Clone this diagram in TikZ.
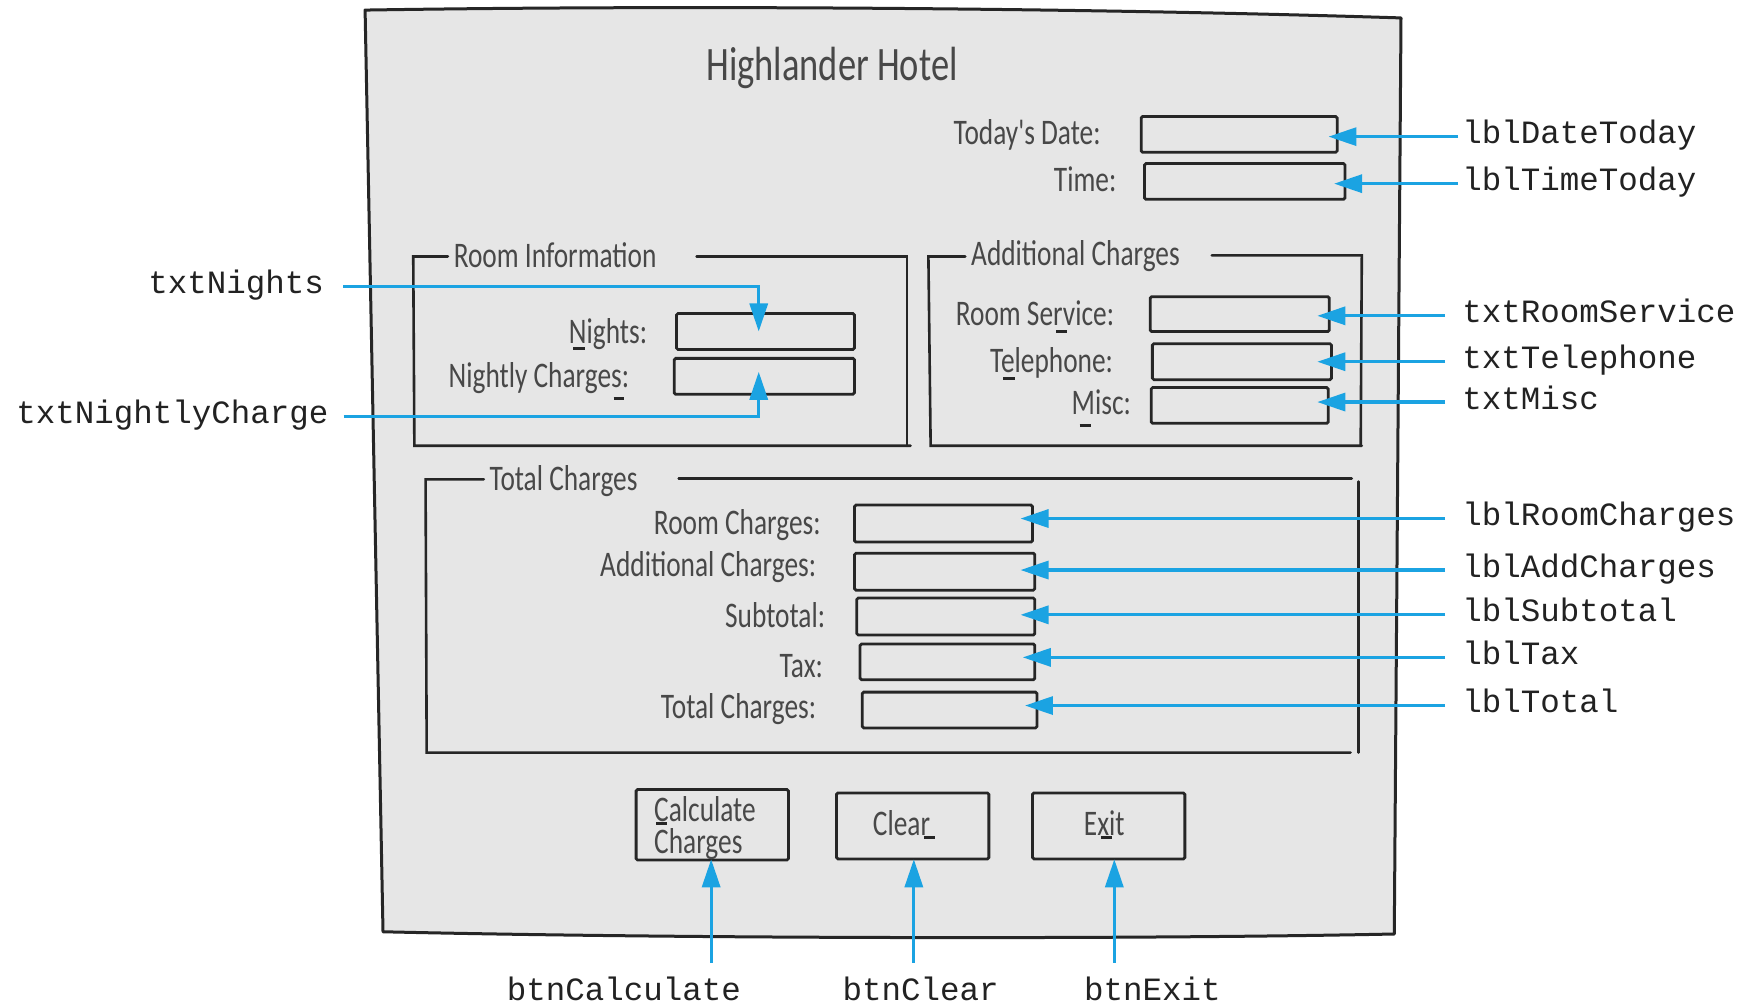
\documentclass[tikz,border=0pt]{standalone}
\usepackage{fontspec}
\usetikzlibrary{arrows.meta,calc,fit}
\newfontfamily\uifont{Carlito}[FakeStretch=0.76]
\newfontfamily\codefont{Liberation Mono}
\definecolor{callout}{HTML}{1BA3E2}
\definecolor{ink}{HTML}{262626}
\definecolor{formbg}{HTML}{E6E6E6}
\definecolor{uitext}{HTML}{484848}
\definecolor{codetext}{HTML}{222222}

\begin{document}
\begin{tikzpicture}[x=1.12pt, y=-1.12pt,
  field/.style={draw=ink, line width=2.8pt, fill=formbg, inner sep=0pt, rounded corners=1.5pt},
  grpline/.style={draw=ink, line width=2.6pt, line cap=round},
  ui/.style={font=\uifont\fontsize{36}{40}\selectfont, text=uitext, inner sep=0pt},
  bigui/.style={font=\uifont\fontsize{48}{52}\selectfont, text=uitext, inner sep=0pt},
  code/.style={font=\codefont\fontsize{32.5}{36}\selectfont, text=codetext,
               text height=20pt, text depth=6pt, inner xsep=4pt, inner ysep=0pt},
  callarrow/.style={draw=callout, line width=3.2pt, -{Triangle[length=28pt,width=18pt]}},
  mnem/.style={draw=ink, line width=3pt}
]
% canvas
\fill[white] (0,0) rectangle (1568,898);
\useasboundingbox (0,0) rectangle (1568,898);

% window outline
\draw[ink, line width=3pt, line join=round, fill=formbg]
  (326,9) .. controls (640,4) and (1000,8) .. (1251,16)
  -- (1245,834) .. controls (1000,839) and (600,838) .. (342,832) -- cycle;

% title
\node[bigui, anchor=base] (title) at (743,72) {Highlander Hotel};

% date and time
\node[ui, anchor=base east] (dateLbl) at (983,129) {Today's Date:};
\node[ui, anchor=base east] (timeLbl) at (997,171) {Time:};
\node[field, fit={(1019,104) (1194,136)}] (dateBox) {};
\node[field, fit={(1022,146) (1201,178)}] (timeBox) {};

% group: Room Information
\draw[grpline] (400,229) -- (369,229) -- (370,398) -- (813,398);
\draw[grpline] (622,229) -- (810,229) -- (810,398);
\node[ui, anchor=base west] (roomGrp) at (405,239) {Room Information};
\node[ui, anchor=base east] (nightsLbl) at (578,307) {Nights:};
\node[ui, anchor=base east] (nightlyLbl) at (562,346) {Nightly Charges:};
\node[field, fit={(604,280) (763,312)}] (nightsBox) {};
\node[field, fit={(602,320) (763,352)}] (nightlyBox) {};
\draw[mnem] (512,311) -- (522,311);
\draw[mnem] (548,356) -- (557,356);

% group: Additional Charges
\draw[grpline] (862,229) -- (829,229) -- (831,398) -- (1216,398);
\draw[grpline] (1082,228) -- (1216,228) -- (1215,398);
\node[ui, anchor=base west] (addGrp) at (867,237) {Additional Charges};
\node[ui, anchor=base east] (serviceLbl) at (995,291) {Room Service:};
\node[ui, anchor=base east] (phoneLbl) at (994,333) {Telephone:};
\node[ui, anchor=base east] (miscLbl) at (1010,370) {Misc:};
\node[field, fit={(1027,265) (1187,296)}] (serviceBox) {};
\node[field, fit={(1029,307) (1189,339)}] (phoneBox) {};
\node[field, fit={(1028,346) (1186,378)}] (miscBox) {};
\draw[mnem] (943,296) -- (953,296);
\draw[mnem] (896,338) -- (906,338);
\draw[mnem] (964,380) -- (974,380);

% group: Total Charges
\draw[grpline] (432,428) -- (380,428) -- (381,672) -- (1206,672);
\draw[grpline] (606,427) -- (1207,427);
\draw[grpline] (1213,430) -- (1213,672);
\node[ui, anchor=base west] (totGrp) at (437,438) {Total Charges};
\node[ui, anchor=base east] (roomChgLbl) at (733,477) {Room Charges:};
\node[ui, anchor=base east] (addChgLbl) at (729,515) {Additional Charges:};
\node[ui, anchor=base east] (subLbl) at (737,560) {Subtotal:};
\node[ui, anchor=base east] (taxLbl) at (735,605) {Tax:};
\node[ui, anchor=base east] (totLbl) at (729,642) {Total Charges:};
\node[field, fit={(763,451) (922,484)}] (roomChgBox) {};
\node[field, fit={(763,494) (924,527)}] (addChgBox) {};
\node[field, fit={(765,534) (924,567)}] (subBox) {};
\node[field, fit={(768,575) (924,607)}] (taxBox) {};
\node[field, fit={(770,618) (926,650)}] (totBox) {};

% buttons
\node[field, fit={(568,705) (704,768)}] (calcBtn) {};
\node[field, fit={(747,708) (883,767)}] (clearBtn) {};
\node[field, fit={(922,708) (1058,767)}] (exitBtn) {};
\node[ui, font=\uifont\fontsize{36}{31.4}\selectfont, align=left, anchor=base west]
  (calcTxt) at (584,762) {Calculate\\Charges};
\node[ui, anchor=base] (clearTxt) at (805,746) {Clear};
\node[ui, anchor=base] (exitTxt) at (986,746) {Exit};
\draw[mnem] (586,735) -- (596,735);
\draw[mnem] (825,748) -- (835,748);
\draw[mnem] (983,748) -- (993,748);

% control names
\node[code, anchor=west] (lblDateToday) at (1302,122) {lblDateToday};
\node[code, anchor=west] (lblTimeToday) at (1302,164) {lblTimeToday};
\node[code, anchor=west] (txtRoomService) at (1302,282) {txtRoomService};
\node[code, anchor=west] (txtTelephone) at (1302,323) {txtTelephone};
\node[code, anchor=west] (txtMisc) at (1302,359) {txtMisc};
\node[code, anchor=west] (lblRoomCharges) at (1302,463) {lblRoomCharges};
\node[code, anchor=west] (lblAddCharges) at (1302,509) {lblAddCharges};
\node[code, anchor=west] (lblSubtotal) at (1302,549) {lblSubtotal};
\node[code, anchor=west] (lblTax) at (1302,587) {lblTax};
\node[code, anchor=west] (lblTotal) at (1302,630) {lblTotal};
\node[code, anchor=east] (txtNights) at (293,256) {txtNights};
\node[code, anchor=east] (txtNightlyCharge) at (297,372) {txtNightlyCharge};
\node[code, anchor=base] (btnCalculate) at (557,893) {btnCalculate};
\node[code, anchor=base] (btnClear) at (822,893) {btnClear};
\node[code, anchor=base] (btnExit) at (1029,893) {btnExit};

% callouts
\draw[callarrow] (lblDateToday.west) -- ($(lblDateToday.west -| dateBox.east)+(-9,0)$);
\draw[callarrow] (lblTimeToday.west) -- ($(lblTimeToday.west -| timeBox.east)+(-11,0)$);
\draw[callarrow, shorten <=13pt] (txtRoomService.west) -- ($(txtRoomService.west -| serviceBox.east)+(-12,0)$);
\draw[callarrow, shorten <=13pt] (txtTelephone.west) -- ($(txtTelephone.west -| phoneBox.east)+(-14,0)$);
\draw[callarrow, shorten <=13pt] (txtMisc.west) -- ($(txtMisc.west -| miscBox.east)+(-11,0)$);
\draw[callarrow, shorten <=13pt] (lblRoomCharges.west) -- ($(lblRoomCharges.west -| roomChgBox.east)+(-12,0)$);
\draw[callarrow, shorten <=13pt] (lblAddCharges.west) -- ($(lblAddCharges.west -| addChgBox.east)+(-14,0)$);
\draw[callarrow, shorten <=13pt] (lblSubtotal.west) -- ($(lblSubtotal.west -| subBox.east)+(-14,0)$);
\draw[callarrow, shorten <=13pt] (lblTax.west) -- ($(lblTax.west -| taxBox.east)+(-12,0)$);
\draw[callarrow, shorten <=13pt] (lblTotal.west) -- ($(lblTotal.west -| totBox.east)+(-12,0)$);
\draw[callarrow, shorten <=15pt] (txtNights.east) -| ($(nightsBox.center)+(-6,0)$);
\draw[callarrow, shorten <=11pt] (txtNightlyCharge.east) -| ($(nightlyBox.center)+(-5,-4)$);
\draw[callarrow, shorten <=17pt] ($(btnCalculate.north -| calcBtn.south)+(-1,0)$) -- ($(calcBtn.south)+(-1,-2)$);
\draw[callarrow, shorten <=17pt] ($(btnClear.north -| clearBtn.south)+(1,0)$) -- ($(clearBtn.south)+(1,-1)$);
\draw[callarrow, shorten <=17pt] ($(btnExit.north -| exitBtn.south)+(5,0)$) -- ($(exitBtn.south)+(5,-1)$);
\end{tikzpicture}
\end{document}
